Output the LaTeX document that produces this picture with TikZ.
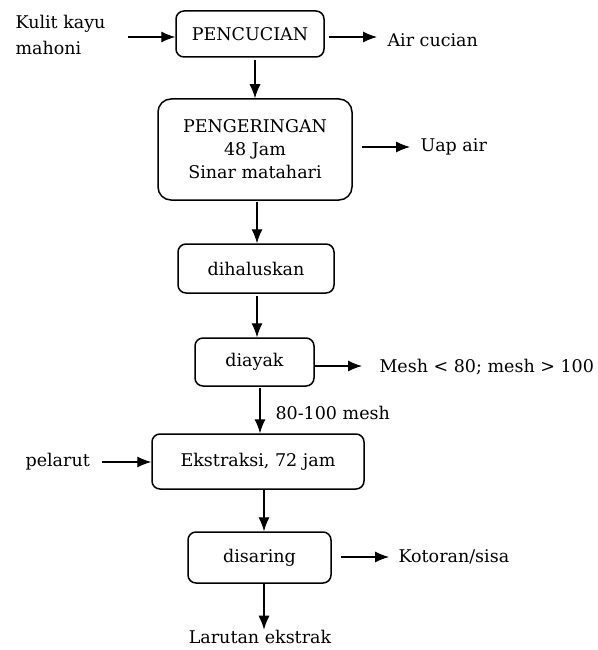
\documentclass[tikz,border=0pt]{standalone}
\usepackage{fontspec}
\setmainfont{DejaVu Serif}
\usetikzlibrary{arrows.meta}

\tikzset{
  proses/.style={draw, line width=1.5pt, rounded corners=8pt, align=center,
    inner sep=0pt, font=\fontsize{17.5}{23}\selectfont},
  ket/.style={inner sep=0pt, align=left, font=\fontsize{17.5}{26}\selectfont}
}

\begin{document}
\begin{tikzpicture}[x=1pt, y=-1pt, line width=1.1pt,
  >={Latex[length=14pt,width=11pt]}]
  \useasboundingbox (0,0) rectangle (597,650);

  % kotak proses
  \node[proses, minimum width=148, minimum height=46] (cuci) at (250, 34) {PENCUCIAN};
  \node[proses, minimum width=194, minimum height=101, rounded corners=13pt] (kering) at (255, 149.5)
    {PENGERINGAN\\48 Jam\\Sinar matahari};
  \node[proses, minimum width=156, minimum height=49] (halus) at (256, 268.5) {dihaluskan};
  \node[proses, minimum width=119, minimum height=48] (ayak) at (254.5, 362) {diayak};
  \node[proses, minimum width=212, minimum height=55] (ekstrak) at (258, 461.5) {Ekstraksi, 72 jam};
  \node[proses, minimum width=143, minimum height=51] (saring) at (259.5, 557.5) {disaring};

  % keterangan
  \node[ket, anchor=west] (kulit) at (15, 35) {Kulit kayu\\mahoni};
  \node[ket, anchor=west] (aircuci) at (387, 40) {Air cucian};
  \node[ket, anchor=west] (uap) at (420, 147) {Uap air};
  \node[ket, anchor=west] (sisamesh) at (379, 367) {Mesh < 80; mesh > 100};
  \node[ket, anchor=west] (lolos) at (275, 413) {80-100 mesh};
  \node[ket, anchor=west] (pelarut) at (25, 462) {pelarut};
  \node[ket, anchor=west] (kotoran) at (398, 557) {Kotoran/sisa};
  \node[ket] (larutan) at (260, 637) {Larutan ekstrak};

  \coordinate (k1) at (128, 37);
  \coordinate (c1) at (329, 37);
  \coordinate (c3) at (377, 37);
  \coordinate (c2) at (255, 60);
  \coordinate (u1) at (362, 147);
  \coordinate (u2) at (410, 147);
  \coordinate (g1) at (257, 202);
  \coordinate (h1) at (257, 296);
  \coordinate (a1) at (315, 366);
  \coordinate (a3) at (362, 366);
  \coordinate (a2) at (260, 388);
  \coordinate (p1) at (102, 462);
  \coordinate (e1) at (264, 490);
  \coordinate (s1) at (341, 557);
  \coordinate (s3) at (389, 557);
  \coordinate (s2) at (264, 584);

  \draw[->] (k1) -- (k1 -| cuci.west);
  \draw[->] (c1) -- (c3);
  \draw[->] (c2) -- (c2 |- kering.north);
  \draw[->] (u1) -- (u2);
  \draw[->] (g1) -- (g1 |- halus.north);
  \draw[->] (h1) -- (h1 |- ayak.north);
  \draw[->] (a1) -- (a3);
  \draw[->] (a2) -- (a2 |- ekstrak.north);
  \draw[->] (p1) -- (p1 -| ekstrak.west);
  \draw[->] (e1) -- (e1 |- saring.north);
  \draw[->] (s1) -- (s3);
  \draw[->] (s2) -- (s2 |- larutan.north);
\end{tikzpicture}
\end{document}
